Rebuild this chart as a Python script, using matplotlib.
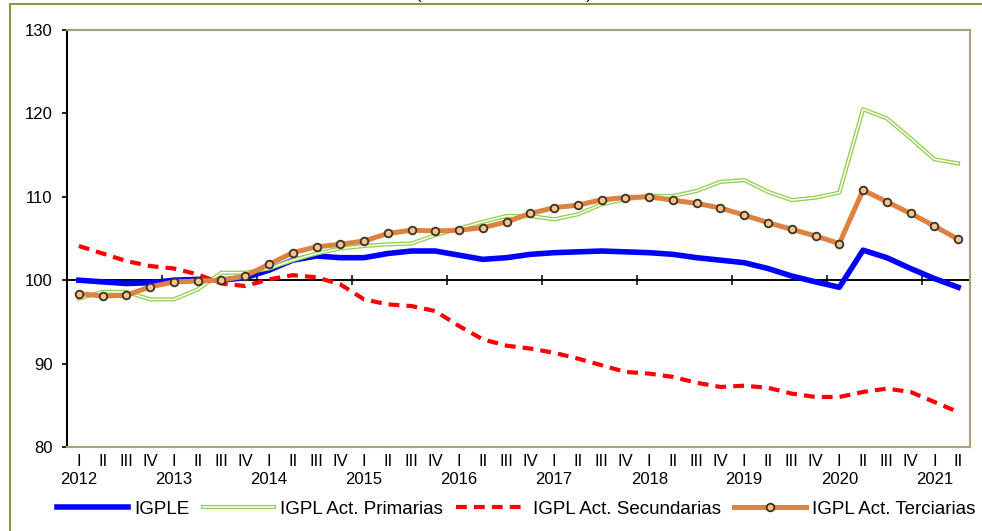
import numpy as np
import matplotlib
matplotlib.use('Agg')
from matplotlib import pyplot as plt
from matplotlib import patheffects as pe
from matplotlib.patches import Rectangle

plt.rcParams['font.family'] = ['Liberation Sans', 'DejaVu Sans']
plt.rcParams['font.size'] = 12

# datos trimestrales 2012 I - 2021 II (indice base 2012=100)
years = list(range(2012, 2022))
quarters = ['I', 'II', 'III', 'IV']

igple = [100.0, 99.8, 99.6, 99.7, 100.0, 100.1, 100.0, 100.3, 101.2, 102.4, 102.9, 102.7,
         102.7, 103.2, 103.5, 103.5, 103.0, 102.5, 102.7, 103.1, 103.3, 103.4, 103.5, 103.4,
         103.3, 103.1, 102.7, 102.4, 102.1, 101.4, 100.5, 99.8, 99.15, 103.6, 102.7, 101.4,
         100.2, 99.15]
primarias = [97.8, 98.6, 98.6, 97.7, 97.7, 98.9, 100.9, 100.9, 101.4, 102.4, 103.2, 103.8,
             104.1, 104.3, 104.4, 105.4, 106.2, 107.0, 107.7, 107.7, 107.3, 107.9, 109.1, 109.7,
             110.1, 110.1, 110.7, 111.8, 112.0, 110.6, 109.6, 109.9, 110.5, 120.5, 119.4, 117.0,
             114.5, 114.0]
secundarias = [104.1, 103.2, 102.3, 101.7, 101.4, 100.7, 99.6, 99.3, 100.1, 100.6, 100.35, 99.5,
               97.7, 97.1, 96.9, 96.3, 94.5, 92.9, 92.15, 91.8, 91.3, 90.6, 89.8, 89.0,
               88.8, 88.4, 87.7, 87.2, 87.35, 87.1, 86.4, 86.0, 86.0, 86.6, 87.0, 86.6,
               85.4, 84.2]
terciarias = [98.4, 98.1, 98.2, 99.2, 99.8, 99.9, 100.0, 100.5, 101.9, 103.3, 104.0, 104.3,
              104.7, 105.6, 106.0, 105.9, 106.0, 106.3, 107.0, 108.0, 108.7, 109.0, 109.65, 109.9,
              110.0, 109.6, 109.2, 108.66, 107.8, 106.9, 106.1, 105.3, 104.4, 110.8, 109.4, 108.0,
              106.5, 104.9]

n = len(igple)
labels = []
for i in range(n):
    q = quarters[i % 4]
    if i % 4 == 0:
        labels.append(q + '\n' + str(years[i // 4]))
    else:
        labels.append(q)

x = np.arange(n)

fig = plt.figure(figsize=(9.82, 5.31), dpi=100)
ax = fig.add_axes([67/982, 1 - 447/531, (970 - 67)/982, (447 - 30)/531])

olive = '#a8a07a'
for s in ['top', 'right', 'bottom']:
    ax.spines[s].set_color(olive)
    ax.spines[s].set_linewidth(1.5)
ax.spines['left'].set_color('black')
ax.spines['left'].set_linewidth(1.5)

ax.plot(x, igple, color='#0000ff', lw=4, solid_joinstyle='round', label='IGPLE', zorder=3)
ax.plot(x, primarias, color='white', lw=1.1, label='IGPL Act. Primarias', zorder=3,
        path_effects=[pe.Stroke(linewidth=3.0, foreground='#92d050'), pe.Normal()])
ax.plot(x, secundarias, color='#ff0000', lw=3, dashes=(2.6, 1.7), label='IGPL Act. Secundarias', zorder=3)
ax.plot(x, terciarias, color='#dd8240', lw=3.6, marker='o', ms=5.5, mfc='#f5c48c', mec='#3d3124',
        mew=1.3, label='IGPL Act. Terciarias', zorder=4)

ax.set_ylim(80, 130)
ax.set_yticks([80, 90, 100, 110, 120, 130])
ax.tick_params(axis='y', direction='out', length=3.5, width=1.2, pad=7, labelsize=12)
ax.set_xlim(-0.5, n - 0.5)
ax.set_xticks(x)
ax.set_xticklabels(labels, linespacing=1.25)
ax.tick_params(axis='x', length=0, pad=5, labelsize=12)

# eje de categorias cruzando en 100
ax.axhline(100, color='black', lw=1.1, zorder=2)
sec = ax.secondary_xaxis((100 - 80) / (130 - 80))
sec.spines['bottom'].set_color('black')
sec.spines['bottom'].set_linewidth(1.1)
sec.set_xticks(np.arange(3.5, n - 0.5, 4))
sec.set_xticklabels([])
sec.tick_params(axis='x', direction='inout', length=7.5, width=1.1)

fig.legend(loc='center', bbox_to_anchor=(516/982, 1 - 509/531), ncol=4, frameon=False,
           fontsize=13.5, handlelength=3.8, handletextpad=0.32, columnspacing=0.7, borderaxespad=0)

# borde del area del grafico
fig.patches.append(Rectangle((10/982, -0.2), 1.2, 1.2 - 4/531, transform=fig.transFigure,
                             fill=False, edgecolor='#968c42', lw=1.4))
# titulo, recortado por el borde superior
fig.text(504/982, 1 + 1.5/531, u'(Índice base 2012=100)', ha='center', va='baseline', fontsize=12)

fig.savefig('out.png', dpi=100)
